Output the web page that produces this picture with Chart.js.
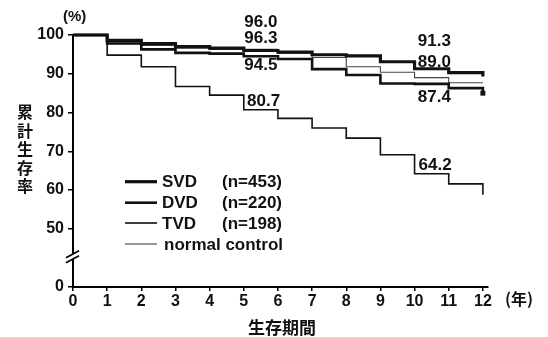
<!DOCTYPE html>
<html><head><meta charset="utf-8">
<script src="https://cdn.jsdelivr.net/npm/chart.js@4/dist/chart.umd.min.js"></script>
<style>html,body{margin:0;padding:0;background:#fff}#wrap{width:548px;height:337px}</style>
</head><body><div id="wrap"><canvas id="c" width="548" height="337"></canvas></div>
<script>
// ---- data ----
const years  = [0,1,2,3,4,5,6,7,8,9,10,11,12];
const svd    = [100,98.6,97.8,97.0,96.6,96.0,95.6,94.9,94.6,93.1,91.3,90.3,89.3];
const dvd    = [100,97.8,96.3,95.4,95.2,94.5,93.8,91.2,89.7,87.5,87.4,86.3,85.0];
const tvd    = [100,94.8,91.8,86.7,84.5,80.7,78.5,76.0,73.4,69.1,64.2,61.6,58.8];
const normal = [100,98.2,97.3,96.6,96.3,96.3,95.3,94.2,91.8,90.4,89.0,87.7,87.7];
const seriesNames = ['SVD','DVD','TVD','normal control'];
const seriesN     = ['(n=453)','(n=220)','(n=198)',''];
const xTicks = [0,1,2,3,4,5,6,7,8,9,10,11,12];
const yTicks = [35,50,60,70,80,90,100];
const yTickLabels = ['0','50','60','70','80','90','100'];
const annText  = ['96.0','96.3','94.5','80.7','91.3','89.0','87.4','64.2'];
const annYear  = [5.5,5.5,5.5,5.58,10.58,10.58,10.58,10.6];
const annValue = [103.35,99.1,92.1,83.0,98.3,92.9,83.9,66.4];
const yTitle = '累計生存率';
const xTitle = '生存期間';
const xUnit = '(年)';
const yUnit = '(%)';

const LAT = '"Liberation Sans", Arial, sans-serif';
const CJK = '"Noto Sans CJK JP", sans-serif';

function pts(arr){ return years.map((x,i)=>({x:x,y:arr[i]})); }

const decor = {
  id:'decor',
  afterDraw(chart){
    const ctx = chart.ctx, xs = chart.scales.x, ys = chart.scales.y;
    ctx.save();
    // axis break
    const by = ys.getPixelForValue(42.8), ax = xs.left;
    ctx.fillStyle='#fff';
    ctx.fillRect(ax-3, by-3, 6, 5);
    ctx.strokeStyle='#000'; ctx.lineWidth=1.6;
    ctx.beginPath();
    ctx.moveTo(ax-7, by+1); ctx.lineTo(ax+6, by-6);
    ctx.moveTo(ax-7, by+6); ctx.lineTo(ax+6, by-1);
    ctx.stroke();
    // annotations
    ctx.fillStyle='#111';
    ctx.font = 'bold 17px '+LAT;
    ctx.textAlign='center'; ctx.textBaseline='middle';
    annText.forEach((t,i)=>{
      ctx.fillText(t, xs.getPixelForValue(annYear[i]), ys.getPixelForValue(annValue[i]));
    });
    // legend
    const rows=[181.7,202.7,223,244];
    chart.data.datasets.forEach((ds,i)=>{
      const y=rows[i];
      ctx.strokeStyle=ds.borderColor; ctx.lineWidth=ds.borderWidth;
      ctx.beginPath(); ctx.moveTo(125,y); ctx.lineTo(157,y); ctx.stroke();
      ctx.fillStyle='#111'; ctx.textAlign='left';
      ctx.font='bold 17px '+LAT;
      ctx.fillText(seriesNames[i], i===3?164:162, y+1);
      if(seriesN[i]) ctx.fillText(seriesN[i], 222, y+1);
    });
    // titles
    ctx.fillStyle='#111';
    ctx.font='bold 15px '+LAT; ctx.textAlign='left';
    ctx.fillText(yUnit, 63, 17);
    ctx.font='bold 16px '+CJK; ctx.textAlign='left';
    ctx.fillText(xUnit, 505, 299);
    ctx.font='bold 17px '+CJK; ctx.textAlign='center';
    ctx.fillText(xTitle, 282, 328);
    ctx.font='bold 16px '+CJK;
    [...yTitle].forEach((ch,i)=>ctx.fillText(ch, 25, 112+i*18.5));
    ctx.restore();
  }
};

new Chart(document.getElementById('c'), {
  type:'line',
  data:{ datasets:[
    {label:seriesNames[0], data:pts(svd), borderColor:'#111', borderWidth:3.2, stepped:true, pointRadius:0, clip:false, order:1},
    {label:seriesNames[1], data:pts(dvd), borderColor:'#111', borderWidth:2.6, stepped:true, pointRadius:years.map((_,i)=>i===years.length-1?3.5:0), pointStyle:'rect', pointBackgroundColor:'#111', pointBorderWidth:0, clip:false, order:2},
    {label:seriesNames[2], data:pts(tvd), borderColor:'#111', borderWidth:1.6, stepped:true, pointRadius:0, clip:false, order:3},
    {label:seriesNames[3], data:pts(normal), borderColor:'#444', borderWidth:1.1, stepped:true, pointRadius:0, clip:false, order:4}
  ]},
  options:{
    responsive:false, animation:false, devicePixelRatio:1,
    layout:{padding:{left:0,top:35,right:60,bottom:0}},
    plugins:{legend:{display:false}, tooltip:{enabled:false}},
    scales:{
      x:{type:'linear', min:0, max:12.15,
        afterBuildTicks(s){ s.ticks = xTicks.map(v=>({value:v})); },
        afterFit(s){ s.height=50; },
        border:{display:true,color:'#000',width:2},
        grid:{drawOnChartArea:false, drawTicks:true, tickLength:4, color:'#000', lineWidth:1.5},
        ticks:{color:'#111', padding:1, maxRotation:0, font:{family:LAT, size:16, weight:'bold'}}
      },
      y:{type:'linear', min:35, max:100,
        afterBuildTicks(s){ s.ticks = yTicks.map(v=>({value:v})); },
        afterFit(s){ s.width=73; },
        border:{display:true,color:'#000',width:2},
        grid:{drawOnChartArea:false, drawTicks:true, tickLength:5, color:'#000', lineWidth:1.5},
        ticks:{color:'#111', padding:4, font:{family:LAT, size:16, weight:'bold'},
          callback(v){ const k=yTicks.indexOf(v); return k>=0?yTickLabels[k]:''; } }
      }
    }
  },
  plugins:[decor]
});
</script></body></html>
